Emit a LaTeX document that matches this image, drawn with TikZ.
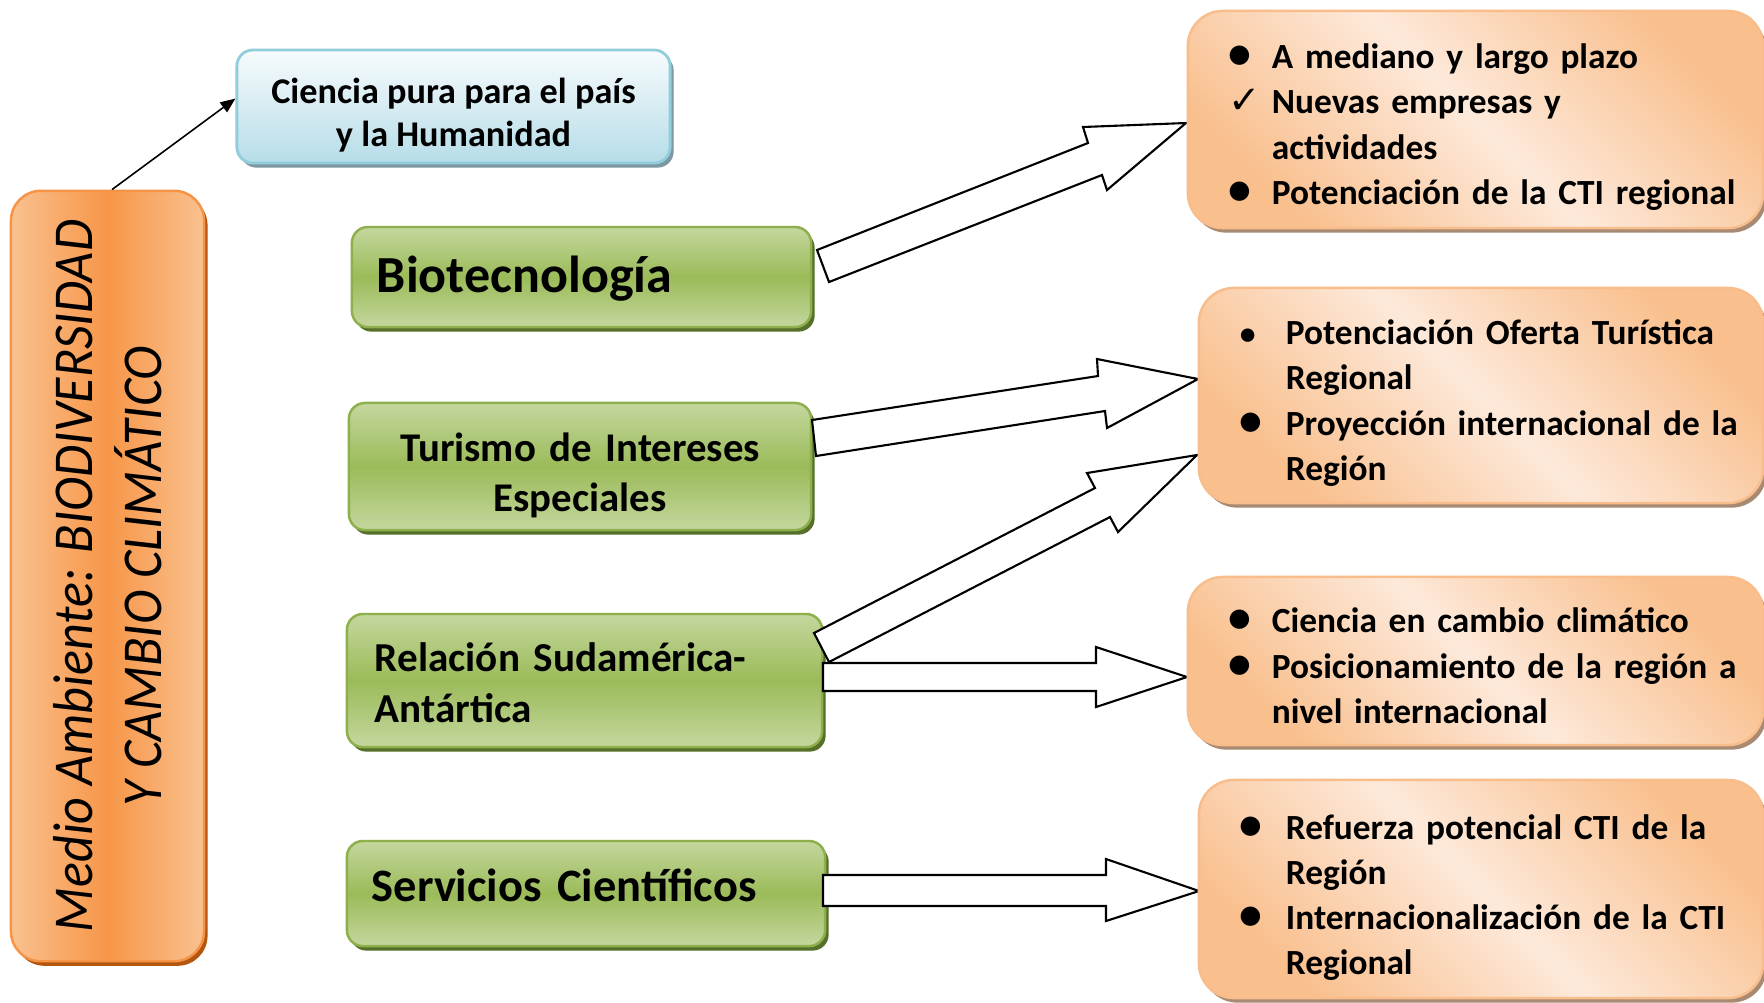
\documentclass[tikz,border=0pt]{standalone}
\usepackage{fontspec}
\usepackage{graphicx}
\setmainfont{Carlito}
\newfontfamily\dejavu{DejaVu Sans}
\usetikzlibrary{arrows.meta}
\definecolor{grL}{HTML}{C4D79E}
\definecolor{grM}{HTML}{9BBB59}
\definecolor{grB}{HTML}{8DB04C}
\definecolor{grS}{HTML}{56702A}
\definecolor{lfL}{HTML}{F9C18F}
\definecolor{lfM}{HTML}{F79648}
\definecolor{lfB}{HTML}{F59446}
\definecolor{lfS}{HTML}{B5560F}
\definecolor{rtL}{HTML}{FDE9DA}
\definecolor{rtD}{HTML}{F9BF8D}
\definecolor{rtB}{HTML}{F8BD8A}
\definecolor{rtS}{HTML}{A88A73}
\definecolor{blT}{HTML}{F7FBFD}
\definecolor{blBt}{HTML}{B6DDE8}
\definecolor{blB}{HTML}{92CDDC}
\definecolor{blS}{HTML}{7C98A2}
\newcommand{\blt}{{\fontsize{13}{12}\selectfont\textbullet}}
\newcommand{\sblt}{{\fontsize{9}{12}\selectfont\textbullet}}
\newcommand{\chk}{{\dejavu\fontsize{11}{12}\selectfont\char"2713}}
\newcommand{\tall}[1]{\rule{0pt}{#1}}
\newcommand{\deep}[1]{\rule[-#1]{0pt}{#1}}
\tikzset{
 shadowed/.style={preaction={fill=#1, transform canvas={xshift=1pt,yshift=-1.3pt}}},
 greenbox/.style={draw=grB, line width=0.7pt, rounded corners=0.16cm,
   top color=grL, bottom color=grL, middle color=grM, shadowed=grS,
   inner ysep=0pt},
 leftbox/.style={draw=lfB, line width=0.7pt, rounded corners=0.3cm,
   left color=lfL, right color=lfL, middle color=lfM, shadowed=lfS},
 rightbox/.style={draw=rtB, line width=0.7pt, rounded corners=0.35cm,
   top color=rtD, bottom color=rtD, middle color=rtL, shading angle=-45,
   shadowed=rtS, inner xsep=0.41cm, inner ysep=0pt, align=left,
   font=\bfseries\fontsize{10.05}{12.8}\selectfont},
 bluebox/.style={draw=blB, line width=0.8pt, rounded corners=0.16cm,
   top color=blT, bottom color=blBt, shadowed=blS, align=center,
   inner ysep=0pt, font=\bfseries\fontsize{10.3}{12.3}\selectfont},
 blockarrow/.style={draw=black, fill=white, line width=0.6pt, line join=miter},
 thinarrow/.style={draw=black, line width=0.45pt, -{Triangle[length=0.15cm,width=0.12cm]}}
}
\begin{document}
\begin{tikzpicture}[x=0.01cm,y=-0.01cm]
\useasboundingbox[fill=white] (0,0) rectangle (1764,1002);

% left box
\node[leftbox, rotate=90, minimum width=7.70cm, minimum height=1.93cm, align=center,
  font=\itshape\fontsize{16}{19.6}\selectfont] (env) at (107.5,576)
  {\scalebox{0.925}[1]{Medio Ambiente: BIODIVERSIDAD}\\\scalebox{0.93}[1]{Y CAMBIO CLIMÁTICO}};

% blue box
\node[bluebox, minimum width=4.33cm, minimum height=1.13cm] (ciencia) at (453.5,106.5)
  {\tall{12.3pt}Ciencia pura para el país\\y la Humanidad};

% green boxes
\node[greenbox, minimum width=4.59cm, minimum height=1.00cm, inner xsep=0.25cm,
  text width=4.09cm, align=left, font=\bfseries\fontsize{14.8}{17.8}\selectfont]
  (bio) at (581.5,277) {\tall{11.2pt}Biotecnología};
\node[greenbox, minimum width=4.62cm, minimum height=1.27cm, inner xsep=0.25cm,
  text width=4.12cm, align=center, font=\bfseries\fontsize{11.6}{14.3}\selectfont]
  (tur) at (580,466.5) {\tall{13.2pt}Turismo de Intereses\\Especiales};
\node[greenbox, minimum width=4.75cm, minimum height=1.33cm, inner xsep=0.28cm,
  text width=4.19cm, align=left, font=\bfseries\fontsize{11.7}{14.5}\selectfont]
  (rel) at (584.5,680.5) {\tall{9.5pt}Relación Sudamérica-\\Antártica};
\node[greenbox, minimum width=4.78cm, minimum height=1.05cm, inner xsep=0.25cm,
  text width=4.28cm, align=left, font=\bfseries\fontsize{13.2}{15.9}\selectfont]
  (serv) at (586,893.5) {Servicios Científicos\deep{4.5pt}};

% thin arrow
\draw[thinarrow] ([xshift=0.045cm]env.east) -- ([yshift=0.08cm]ciencia.west);

% block arrows
\draw[blockarrow] (817,250) -- (1088,143) -- (1083,127) -- (1186,123) -- (1107,190) -- (1102,175) -- (829,282) -- cycle;
\draw[blockarrow] (812,420) -- (1098,376) -- (1097,359) -- (1198,379) -- (1107,428) -- (1105,411) -- (816,456) -- cycle;
\draw[blockarrow] (814,633) -- (1095,488) -- (1087,473) -- (1197,455) -- (1118,532) -- (1110,517) -- (829,662) -- cycle;
\draw[blockarrow] (823,663) -- (1096,663) -- (1096,647) -- (1187,677) -- (1096,707) -- (1096,691) -- (823,691) -- cycle;
\draw[blockarrow] (823,875) -- (1106,875) -- (1106,859) -- (1199,891) -- (1106,921) -- (1106,906) -- (823,906) -- cycle;

% right boxes
\node[rightbox, minimum width=5.75cm, minimum height=2.17cm, text width=4.93cm] (r1) at (1475.5,119.5)
 {\begin{tabular}{@{}p{0.43cm}@{}l@{}}
  \blt\tall{13.5pt} & A mediano y largo plazo\\
  \chk & Nuevas empresas y\\
       & actividades\\
  \blt & Potenciación de la CTI regional
  \end{tabular}};
\node[rightbox, minimum width=5.64cm, minimum height=2.15cm, text width=4.82cm] (r2) at (1481,395.5)
 {\begin{tabular}{@{}p{0.46cm}@{}l@{}}
  \sblt\tall{13.5pt} & Potenciación Oferta Turística\\
        & Regional\\
  \blt & Proyección internacional de la\\
       & Región
  \end{tabular}};
\node[rightbox, minimum width=5.75cm, minimum height=1.68cm, text width=4.93cm] (r3) at (1475.5,661)
 {\begin{tabular}{@{}p{0.43cm}@{}l@{}}
  \blt\tall{13.5pt} & Ciencia en cambio climático\\
  \blt & Posicionamiento de la región a\\
       & nivel internacional
  \end{tabular}};
\node[rightbox, minimum width=5.64cm, minimum height=2.18cm, text width=4.82cm] (r4) at (1481,889)
 {\begin{tabular}{@{}p{0.46cm}@{}l@{}}
  \blt\tall{14pt} & Refuerza potencial CTI de la\\
       & Región\\
  \blt & Internacionalización de la CTI\\
       & Regional
  \end{tabular}};
\end{tikzpicture}
\end{document}
